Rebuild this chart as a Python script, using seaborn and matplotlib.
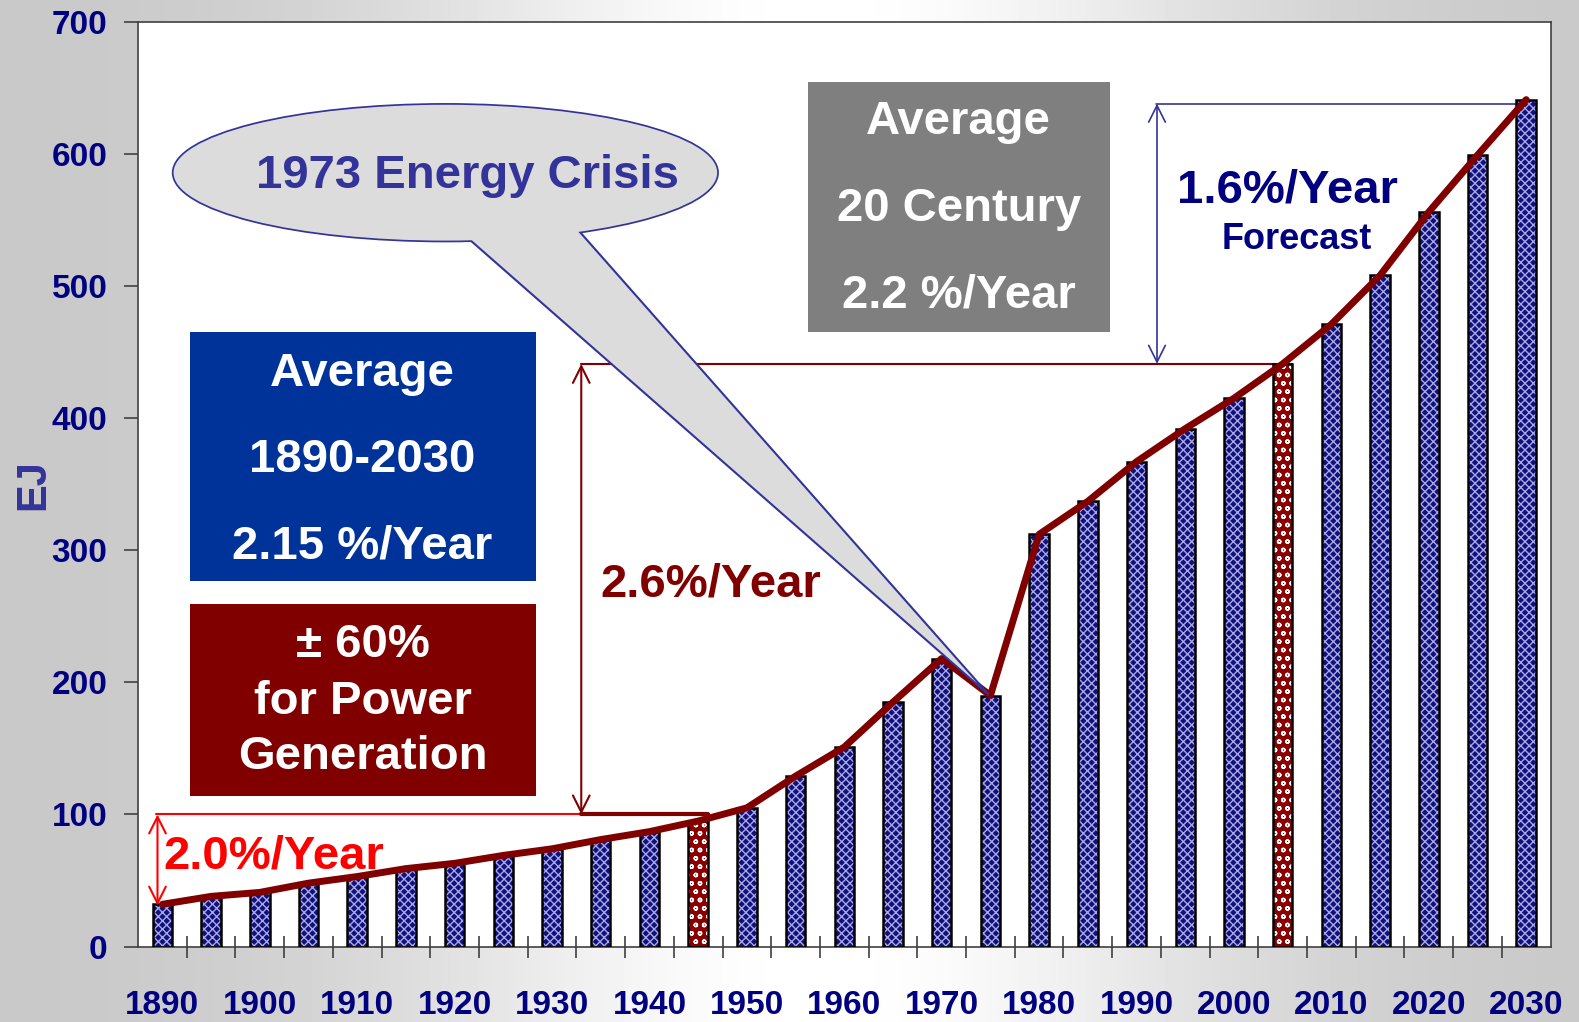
import matplotlib
matplotlib.use("Agg")
import matplotlib.pyplot as plt
import seaborn as sns
import numpy as np
import pandas as pd
from matplotlib.patches import Ellipse, Polygon, Rectangle

# world primary energy, EJ, every 5 years
years = list(range(1890, 2031, 5))
energy = [32, 38, 41, 48, 53, 59, 63, 69, 74, 81,
          87, 95, 105, 129, 151, 185, 218, 190, 312, 337,
          367, 392, 415, 441, 471, 508, 556, 599, 641]
highlight = [1945, 2005]
yticks = [0, 100, 200, 300, 400, 500, 600, 700]
xlabels = [str(y) if y % 10 == 0 else "" for y in years]

sns.set_style("ticks")
plt.rcParams['font.family'] = ['Liberation Sans', 'DejaVu Sans']
plt.rcParams['font.weight'] = 'bold'
plt.rcParams['hatch.linewidth'] = 1.0

NAVY = '#000080'
DRED = '#800000'
BLUE = '#333399'

df = pd.DataFrame({"year": [str(y) for y in years], "EJ": energy})

fig = plt.figure(figsize=(15.79, 10.22), dpi=100)

# gray gradient background
bg = fig.add_axes([0, 0, 1, 1], zorder=-1)
gx = np.linspace(0, 1, 400)
grad = 0.78 + 0.22 * np.exp(-((gx - 0.52) / 0.27) ** 2)
bg.imshow(np.tile(grad, (10, 1)), aspect='auto', cmap='gray', vmin=0, vmax=1,
          extent=[0, 1, 0, 1])
bg.axis('off')

ax = fig.add_axes([0.0874, 0.0738, 0.8946, 0.905], zorder=1)
ax.set_facecolor('white')

sns.barplot(data=df, x="year", y="EJ", ax=ax, width=0.4, linewidth=0,
            color=NAVY, zorder=2)
n = len(years)
for p, y in zip(ax.patches, years):
    if y in highlight:
        p.set_facecolor('#8b0000')
        p.set_edgecolor('#ffffff')
        p.set_hatch('oo')
    else:
        p.set_facecolor('#10107e')
        p.set_edgecolor('#a8a8e0')
        p.set_hatch('xxxx')
    p.set_linewidth(0)
# black outlines
ax.bar(np.arange(n), energy, width=0.4, fill=False, edgecolor='black',
       linewidth=1.8, zorder=3)

# trend line through bar tops
ax.plot(np.arange(n), energy, color=DRED, lw=5, zorder=4, solid_capstyle='round')

ax.set_xlim(-0.5, n - 0.5)
ax.set_ylim(0, 700)
ax.set_yticks(yticks)
ax.set_xticks(np.arange(n))
ax.set_xticklabels(xlabels)
ax.set_xticks(np.arange(n - 1) + 0.5, minor=True)
ax.tick_params(axis='x', which='major', length=0, pad=31, labelsize=24,
               labelcolor=NAVY)
ax.tick_params(axis='x', which='minor', length=16, direction='inout',
               color='#404040', width=1.2)
ax.tick_params(axis='y', length=10, direction='out', pad=12, labelsize=24,
               labelcolor=NAVY, color='#404040', width=1.2)
for lab in ax.get_xticklabels() + ax.get_yticklabels():
    lab.set_fontweight('bold')
ax.set_xlabel("")
ax.set_ylabel("EJ", fontsize=30, color=BLUE, fontweight='heavy')
ax.yaxis.set_label_coords(-0.074, 0.5)
ax.yaxis.label.set_verticalalignment('center')
for s in ax.spines.values():
    s.set_color('#404040')
    s.set_linewidth(1.2)

arrow = dict(arrowstyle='<->', mutation_scale=30, shrinkA=0, shrinkB=0)

# 2.0 %/Year segment
ax.plot([-0.14, 8.6], [100, 100], color='red', lw=1.5, zorder=5)
ax.plot([8.6, 11.2], [100, 100], color=DRED, lw=3, zorder=5)
ax.annotate("", xy=(-0.1, 31), xytext=(-0.1, 100),
            arrowprops=dict(arrow, color='red', lw=1.5), zorder=5)
ax.text(0.02, 68, "2.0%/Year", color='red', fontsize=34, fontweight='bold',
        va='center', ha='left', zorder=6)

# 2.6 %/Year segment
ax.plot([8.6, 23.2], [441, 441], color=DRED, lw=1.5, zorder=1.5)
ax.annotate("", xy=(8.6, 100), xytext=(8.6, 441),
            arrowprops=dict(arrow, color=DRED, lw=1.5), zorder=5)
ax.text(9.0, 274, "2.6%/Year", color=DRED, fontsize=34, fontweight='bold',
        va='center', ha='left', zorder=6)

# 1.6 %/Year forecast
ax.plot([20.4, 28], [638, 638], color=BLUE, lw=1.2, zorder=1.5)
ax.annotate("", xy=(20.42, 441), xytext=(20.42, 638),
            arrowprops=dict(arrow, color=BLUE, lw=1.2), zorder=5)
ax.text(23.1, 572, "1.6%/Year", color=NAVY, fontsize=34, fontweight='bold',
        va='center', ha='center', zorder=6)
ax.text(23.3, 535, "Forecast", color=NAVY, fontsize=26, fontweight='bold',
        va='center', ha='center', zorder=6)

# boxes
boxes = [
    ((13.25, 465.4), 6.2, 188.9, '#7f7f7f', 16.35,
     ["Average", "20 Century", "2.2 %/Year"], [623.8, 558.3, 492.8]),
    ((0.56, 276.5), 7.11, 188.9, '#003399', 4.11,
     ["Average", "1890-2030", "2.15 %/Year"], [433.4, 368.6, 303.1]),
    ((0.56, 114.2), 7.11, 144.8, DRED, 4.11,
     ["± 60%", "for Power", "Generation"], [228.5, 185.1, 143.2]),
]
for (x0, y0), w, h, c, xc, lines, ys in boxes:
    ax.add_patch(Rectangle((x0, y0), w, h, facecolor=c, edgecolor='none', zorder=6))
    for t, yy in zip(lines, ys):
        ax.text(xc, yy, t, color='white', fontsize=34, fontweight='bold',
                ha='center', va='center', zorder=7)

# callout
ell_kw = dict(xy=(5.81, 585.7), width=11.16, height=102.8)
ax.add_patch(Ellipse(**ell_kw, facecolor='#dcdcdc', edgecolor=BLUE, lw=2.5, zorder=8))
ax.add_patch(Polygon([(6.0, 545), (16.97, 190.4), (8.4, 548)], closed=True,
                     facecolor='#dcdcdc', edgecolor=BLUE, lw=1.5, zorder=9))
ax.add_patch(Ellipse(**ell_kw, facecolor='#dcdcdc', edgecolor='none', zorder=10))
ax.text(6.26, 583, "1973 Energy Crisis", color=BLUE, fontsize=34,
        fontweight='bold', ha='center', va='center', zorder=11)

fig.savefig("out.png", dpi=100)
